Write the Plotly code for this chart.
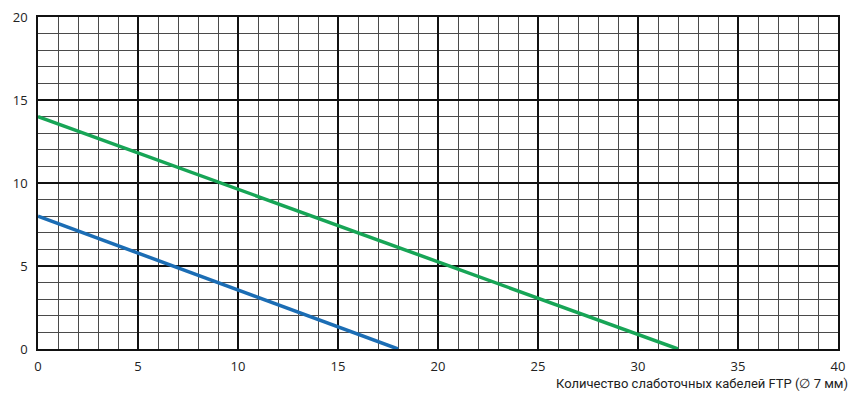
import plotly.graph_objects as go

# two cable lines (x = number of FTP cables, y = value)
green_x = [0, 32]
green_y = [14, 0]
blue_x = [0, 18]
blue_y = [8, 0]

x_ticks = [0, 5, 10, 15, 20, 25, 30, 35, 40]
y_ticks = [0, 5, 10, 15, 20]

fig = go.Figure()
fig.add_trace(go.Scatter(x=green_x, y=green_y, mode="lines",
                         line=dict(color="#17a556", width=3.5), showlegend=False))
fig.add_trace(go.Scatter(x=blue_x, y=blue_y, mode="lines",
                         line=dict(color="#1b6db4", width=3.5), showlegend=False))

axis_common = dict(
    showgrid=True, gridcolor="#111111", gridwidth=1.6,
    minor=dict(dtick=1, showgrid=True, gridcolor="#4a4a4a", gridwidth=1.2),
    zeroline=False, showline=True, linecolor="#111111", linewidth=1.6, mirror=True,
    ticks="", automargin=False, ticklabeloverflow="allow",
    tickfont=dict(family="Open Sans", size=13, color="#222222"),
)

fig.update_xaxes(range=[0, 40], tickvals=x_ticks, ticklabelstandoff=5, **axis_common)
fig.update_yaxes(range=[0, 20], tickvals=y_ticks, ticklabelstandoff=6, **axis_common)

fig.add_annotation(text="Количество слаботочных кабелей FTP (∅ 7 мм)",
                   xref="paper", yref="paper", x=1.0155, y=-0.103,
                   xanchor="right", yanchor="middle", showarrow=False,
                   font=dict(family="Roboto", size=13, color="#222222"))

fig.update_layout(width=849, height=405, plot_bgcolor="white", paper_bgcolor="white",
                  margin=dict(l=38, r=11, t=17, b=56))

# drop the default body margin so the figure sits at the page corner
fig.write_html("out.html", config={"displayModeBar": False},
               post_script="document.body.style.margin='0';")
